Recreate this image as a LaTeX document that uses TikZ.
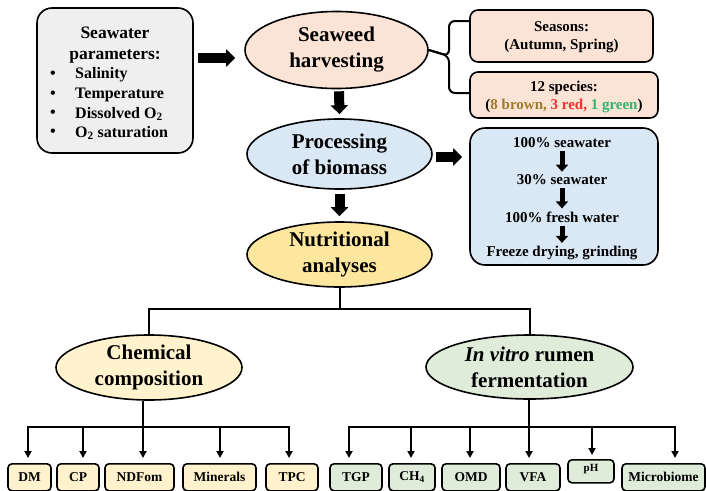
\documentclass[tikz,border=0pt]{standalone}
\usepackage{fontspec}
\setmainfont{Liberation Serif}
\usetikzlibrary{shapes.geometric,arrows.meta,calc}
\definecolor{grayfill}{HTML}{EFEFEF}
\definecolor{peach}{HTML}{FBE3D6}
\definecolor{bluefill}{HTML}{DAE7F4}
\definecolor{nutrfill}{HTML}{FDE69E}
\definecolor{chemfill}{HTML}{FFF2CC}
\definecolor{vitfill}{HTML}{DFECDA}
\definecolor{brownc}{HTML}{9C7A2E}
\definecolor{redc}{HTML}{F03030}
\definecolor{greenc}{HTML}{2FB56A}
\begin{document}
\begin{tikzpicture}[x=1pt,y=-1pt,
  ell/.style={ellipse, draw, line width=1.6pt, inner sep=0pt, align=center,
    font=\fontsize{21}{26}\selectfont\bfseries},
  rbox/.style={draw, line width=1.6pt, align=center},
  bigarr/.style={-{Triangle[length=9pt,width=17pt]}, line width=10pt},
  midarr/.style={-{Triangle[length=7pt,width=12pt]}, line width=5pt},
  conn/.style={line width=2pt},
  sarr/.style={line width=2pt, -{Triangle[length=7pt,width=7pt]}, shorten >=5pt},
  small/.style={rbox, rounded corners=4pt, minimum height=27pt, inner sep=0pt,
    anchor=north, font=\fontsize{13.5}{15}\selectfont\bfseries},
  boxtxt/.style={font=\fontsize{15}{18}\selectfont\bfseries, align=center, inner sep=0pt},
  swtitle/.style={font=\fontsize{17.5}{22}\selectfont\bfseries, inner sep=0pt},
  switem/.style={font=\fontsize{16}{19}\selectfont\bfseries, inner sep=0pt, anchor=west}
]
\useasboundingbox (0,0) rectangle (706,490);

% Seawater parameters box
\node[rbox, fill=grayfill, rounded corners=15pt, minimum width=156pt, minimum height=145pt] (sw) at (115,80.5) {};
\node[swtitle] (t1) at (115,33) {Seawater};
\node[swtitle] (t2) at (115,56) {parameters:};
\foreach \yy/\txt/\nm in {75/Salinity/i1, 95/Temperature/i2, 114/{Dissolved O\textsubscript{2}}/i3, 133/{O\textsubscript{2} saturation}/i4}{
  \node[switem] (b\nm) at (50,\yy) {\textbullet};
  \node[switem] (\nm) at (75,\yy) {\txt};
}

% Ellipses
\node[ell, fill=peach, minimum width=183pt, minimum height=77pt] (harv) at (336.5,50) {Seaweed\\harvesting};
\node[ell, fill=bluefill, minimum width=185pt, minimum height=70pt] (proc) at (339.5,154) {Processing\\of biomass};
\node[ell, fill=nutrfill, minimum width=185pt, minimum height=65pt] (nutr) at (339.5,254.5) {Nutritional\\analyses};
\node[ell, fill=chemfill, minimum width=186pt, minimum height=65pt] (chem) at (149,367.5) {Chemical\\composition};
\node[ell, fill=vitfill, minimum width=207pt, minimum height=64pt] (vit) at (529.5,367) {\textit{In vitro} rumen\\fermentation};

% Right boxes
\node[rbox, fill=peach, rounded corners=8pt, minimum width=183pt, minimum height=52pt, boxtxt] (seas) at (561.5,36) {};
\node[boxtxt] (seast) at (561.5,37) {Seasons:\\(Autumn, Spring)};
\node[rbox, fill=peach, rounded corners=8pt, minimum width=188pt, minimum height=46pt] (spec) at (564,95) {};
\node[boxtxt] (spect) at (564,97) {12 species:\\(\textcolor{brownc}{8 brown,} \textcolor{redc}{3 red,} \textcolor{greenc}{1 green})};

\node[rbox, fill=bluefill, rounded corners=15pt, minimum width=188pt, minimum height=137pt] (blue) at (564,196.5) {};
\node[boxtxt] (s1) at (562,143) {100\% seawater};
\node[boxtxt] (s2) at (562,180) {30\% seawater};
\node[boxtxt] (s3) at (562,217) {100\% fresh water};
\node[boxtxt] (s4) at (562,253) {Freeze drying, grinding};
\draw[midarr] ($(s1.south)+(0,3)$) -- ($(s2.north)+(0,-3)$);
\draw[midarr] ($(s2.south)+(0,3)$) -- ($(s3.north)+(0,-3)$);
\draw[midarr] ($(s3.south)+(0,3)$) -- ($(s4.north)+(0,-3)$);

% Brace
\draw[conn, rounded corners=6pt] (seas.west |- 0,21) -- (449,21) -- (449,56) -- (harv.east);
\draw[conn, rounded corners=6pt] (harv.east) -- (449,56) -- (449,93) -- (spec.west |- 0,93);

% Big arrows
\draw[bigarr] ($(sw.east |- harv.west)+(4,8)$) -- ($(harv.west)+(-9,8)$);
\draw[bigarr] ($(harv.south)+(2.5,2)$) -- ($(proc.north)+(0,-4)$);
\draw[bigarr] ($(proc.east)+(3,3)$) -- ($(proc.east -| blue.west)+(-7,3)$);
\draw[bigarr] ($(proc.south)+(0,4)$) -- ($(nutr.north)+(0,-5)$);

% Tree
\coordinate (j) at (339.5,309);
\draw[conn] (nutr.south) -- (j);
\draw[conn] (chem.north) -- (chem.north |- j) -- (vit.north |- j) -- (vit.north);

% Bottom boxes
\node[small, fill=chemfill, minimum width=43pt] (dm) at (29.5,463) {DM};
\node[small, fill=chemfill, minimum width=42pt] (cp) at (78,463) {CP};
\node[small, fill=chemfill, minimum width=69pt] (ndf) at (139.5,463) {NDFom};
\node[small, fill=chemfill, minimum width=73pt] (min) at (219.5,463) {Minerals};
\node[small, fill=chemfill, minimum width=52pt] (tpc) at (292,463) {TPC};
\node[small, fill=vitfill, minimum width=52pt] (tgp) at (356,463) {TGP};
\node[small, fill=vitfill, minimum width=46pt] (ch4) at (412,463) {CH\textsubscript{4}};
\node[small, fill=vitfill, minimum width=58pt] (omd) at (471,463) {OMD};
\node[small, fill=vitfill, minimum width=54pt] (vfa) at (533,463) {VFA};
\node[small, fill=vitfill, minimum width=46pt, minimum height=23pt, font=\fontsize{11}{13}\selectfont\bfseries] (ph) at (591,459) {pH\rule[-6pt]{0pt}{1pt}};
\node[small, fill=vitfill, minimum width=83pt] (mb) at (663.5,463) {Microbiome};

% Chemical branches
\coordinate (cb) at (143,427);
\draw[conn] (cb |- chem.south) -- (cb);
\draw[sarr] (cb) -| (dm.north -| 28,0);
\draw[sarr] (cb) -| (tpc.north -| 289,0);
\draw[sarr] (83,427) -- (cp.north -| 83,0);
\draw[sarr] (cb) -- (ndf.north -| 143,0);
\draw[sarr] (220,427) -- (min.north -| 220,0);

% In vitro branches
\coordinate (vb) at (529,427);
\draw[conn] (vb |- vit.south) -- (vb);
\draw[sarr] (vb) -| (tgp.north -| 349,0);
\draw[sarr] (vb) -| (mb.north -| 675,0);
\draw[sarr] (411,427) -- (ch4.north -| 411,0);
\draw[sarr] (470,427) -- (omd.north -| 470,0);
\draw[sarr] (vb) -- (vfa.north -| 529,0);
\draw[sarr, shorten >=4pt] (592,427) -- (ph.north -| 592,0);
\end{tikzpicture}
\end{document}
